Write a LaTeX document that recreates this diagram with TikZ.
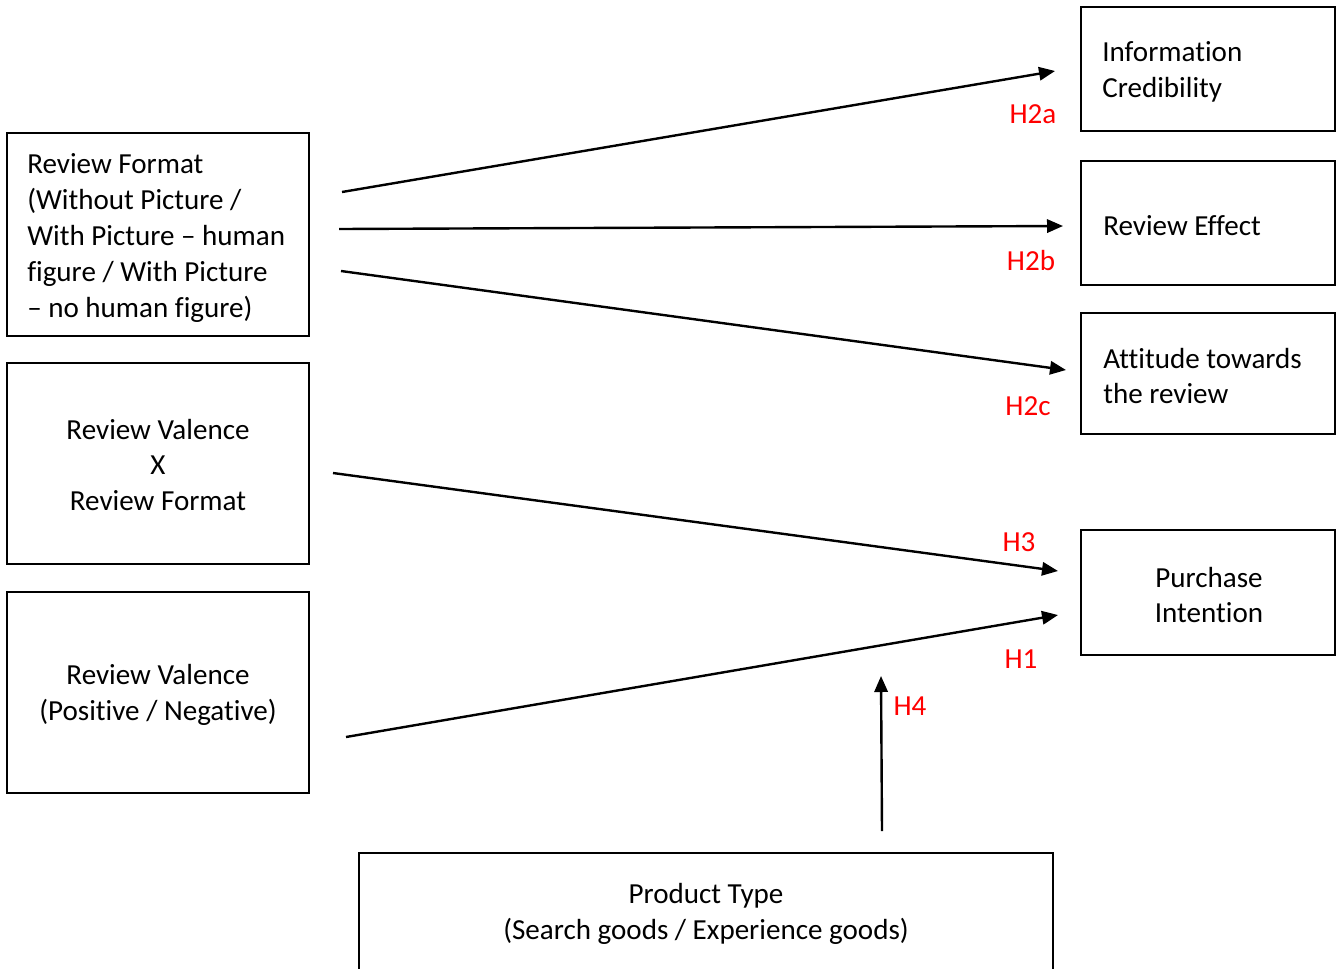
\documentclass[tikz,border=0pt]{standalone}
\usepackage{fontspec}
\setmainfont[Ligatures=NoCommon]{Carlito}
\usetikzlibrary{arrows.meta}
\begin{document}
\begin{tikzpicture}[x=0.75pt,y=-0.75pt,
  box/.style={draw=black,line width=1pt,inner sep=0pt},
  txt/.style={inner sep=0pt,font=\fontsize{21.8}{26.9}\selectfont},
  hyp/.style={inner sep=0pt,text=red,font=\fontsize{21.8}{26.9}\selectfont},
  arr/.style={line width=1.8pt,-{Triangle[length=12pt,width=10pt]}}]
\clip (0,0) rectangle (1341,968);
\fill[white] (0,0) rectangle (1341,968);
% boxes
\node[box,minimum width=190.5pt,minimum height=93pt] (ic) at (1208,69) {};
\node[box,minimum width=190.5pt,minimum height=93pt] (re) at (1208,223) {};
\node[box,minimum width=190.5pt,minimum height=90.75pt] (at) at (1208,373.5) {};
\node[box,minimum width=190.5pt,minimum height=93.75pt] (pi) at (1208,592.5) {};
\node[box,minimum width=226.5pt,minimum height=152.25pt] (rf) at (158,234.5) {};
\node[box,minimum width=226.5pt,minimum height=150.75pt] (rvx) at (158,463.5) {};
\node[box,minimum width=226.5pt,minimum height=150.75pt] (rv) at (158,692.5) {};
\node[box,minimum width=520.5pt,minimum height=91.5pt] (pt) at (706,914) {};
% texts
\node[txt,align=center] (pit) at (1209,595) {Purchase\\Intention};
\node[txt,align=center] (rvxt) at (158,465) {Review Valence\\X\\Review Format};
\node[txt,align=center] (rvt) at (158,695) {Review Valence\\(Positive / Negative)};
\node[txt,align=center] (ptt) at (706,913.5) {Product Type\\(Search goods / Experience goods)};
\node[txt,anchor=west,align=left] (ict) at (1102,72) {Information\\Credibility};
\node[txt,anchor=west,align=left] (ret) at (1103,226) {Review Effect};
\node[txt,anchor=west,align=left] (att) at (1103,376) {Attitude towards\\the review};
\node[txt,anchor=west,align=left] (rft) at (27,238) {Review Format\\(Without Picture /\\With Picture -- human\\figure / With Picture\\-- no human figure)};
% arrow end points
\coordinate (a1s) at (342,192); \coordinate (a1e) at (1055,71);
\coordinate (a2s) at (339,229); \coordinate (a2e) at (1063,226);
\coordinate (a3s) at (341,271); \coordinate (a3e) at (1066,370);
\coordinate (a4s) at (333,473); \coordinate (a4e) at (1058,571);
\coordinate (a5s) at (346,737); \coordinate (a5e) at (1058,615);
\coordinate (a6s) at (882,831); \coordinate (a6e) at (881,676);
\draw[arr] (a1s) -- (a1e);
\draw[arr] (a2s) -- (a2e);
\draw[arr] (a3s) -- (a3e);
\draw[arr] (a4s) -- (a4e);
\draw[arr] (a5s) -- (a5e);
\draw[arr] (a6s) -- (a6e);
% labels
\node[hyp] (h2a) at (1033,114) {H2a};
\node[hyp] (h2b) at (1031,261) {H2b};
\node[hyp] (h2c) at (1028,406) {H2c};
\node[hyp] (h3) at (1019,542) {H3};
\node[hyp] (h1) at (1021,659) {H1};
\node[hyp] (h4) at (910,706) {H4};
\end{tikzpicture}
\end{document}
